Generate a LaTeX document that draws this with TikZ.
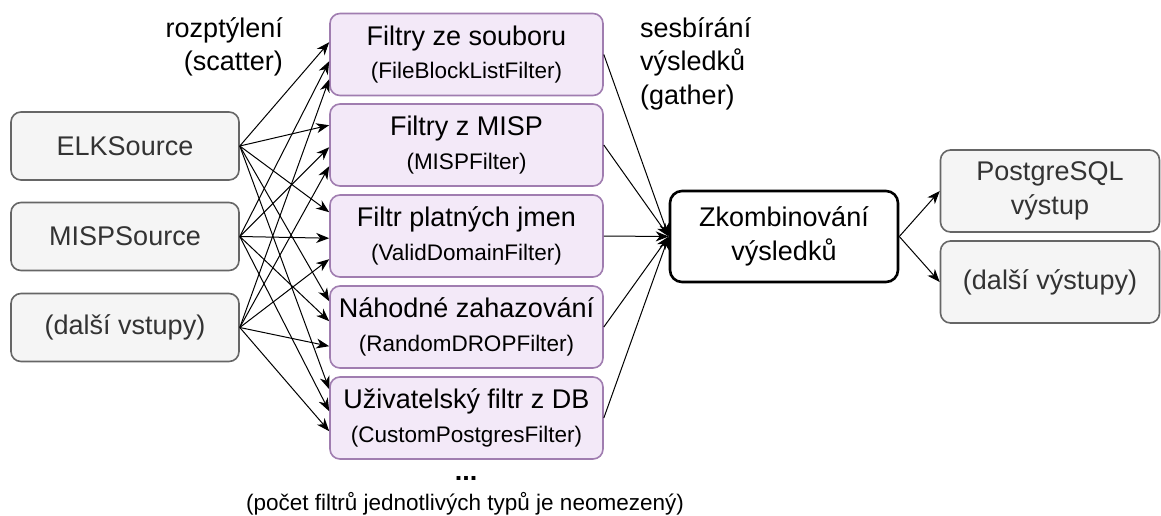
\documentclass[tikz,border=0pt]{standalone}
\usepackage{fontspec}
\setmainfont{Liberation Sans}
\usetikzlibrary{arrows.meta}
\newcommand\FontMain{\fontsize{27}{33.5}\selectfont}
\newcommand\FontSub{\fontsize{22.5}{27}\selectfont}
\definecolor{srcfill}{HTML}{F5F5F5}
\definecolor{srcline}{HTML}{666666}
\definecolor{srctext}{HTML}{333333}
\definecolor{filtfill}{HTML}{F3E9F8}
\definecolor{filtline}{HTML}{A07DB0}
\tikzset{
  src/.style={draw=srcline, fill=srcfill, rounded corners=10pt, line width=1.6pt,
    minimum width=228pt, minimum height=68pt, text=srctext, font=\FontMain, inner sep=0pt, align=center},
  filt/.style={draw=filtline, fill=filtfill, rounded corners=10pt, line width=1.6pt,
    minimum width=273pt, minimum height=82pt, align=center, font=\FontMain, inner sep=0pt},
  combbox/.style={draw=black, fill=white, rounded corners=12pt, line width=2.6pt,
    minimum width=228pt, minimum height=91pt, align=center, font=\FontMain, inner sep=0pt},
  outbox/.style={src, minimum width=219pt, minimum height=82pt},
  arr/.style={-{Stealth[length=13pt,width=10pt,inset=4pt]}, line width=1pt},
  lbl/.style={font=\FontMain, inner sep=0pt},
}
\begin{document}
\begin{tikzpicture}[x=1pt,y=-1pt]
\useasboundingbox (0,0) rectangle (1161,515);
% sources
\node[src] (elk) at (125,146) {ELKSource};
\node[src] (misp) at (125,236.5) {MISPSource};
\node[src] (dalsi) at (125,327.5) {(další vstupy)};
% filters
\node[filt] (f1) at (466.5,54.5) {Filtry ze souboru\\{\FontSub (FileBlockListFilter)}};
\node[filt] (f2) at (466.5,145) {Filtry z MISP\\{\FontSub (MISPFilter)}};
\node[filt] (f3) at (466.5,236) {Filtr platných jmen\\{\FontSub (ValidDomainFilter)}};
\node[filt] (f4) at (466.5,327) {Náhodné zahazování\\{\FontSub (RandomDROPFilter)}};
\node[filt] (f5) at (466.5,418) {Uživatelský filtr z DB\\{\FontSub (CustomPostgresFilter)}};
% combine and outputs
\node[combbox] (comb) at (784,236.5) {Zkombinování\\výsledků};
\node[outbox] (pg) at (1050,191) {PostgreSQL\\výstup};
\node[outbox] (dv) at (1050,282) {(další výstupy)};
% labels
\node[lbl, anchor=north east, align=right] (scat) at (283,17) {rozptýlení\\(scatter)};
\node[lbl, anchor=north west, align=left] (gath) at (640,17) {sesbírání\\výsledků\\(gather)};
\node[lbl, font=\bfseries\FontMain, anchor=base] (dots) at (466,480) {...};
\node[inner sep=0pt, font=\FontSub, anchor=base] (note) at (465,510) {(počet filtrů jednotlivých typů je neomezený)};
% scatter arrows
\foreach \s/\f/\o in {elk/f1/29.5, misp/f1/48.5, dalsi/f1/66.5,
                      elk/f2/22, misp/f2/44, dalsi/f2/63,
                      elk/f3/18, misp/f3/44, dalsi/f3/65,
                      elk/f4/16, misp/f4/36, dalsi/f4/61,
                      elk/f5/13, misp/f5/35, dalsi/f5/55}
  \draw[arr] (\s.east) -- ([yshift=-\o pt]\f.north west);
% gather arrows
\foreach \f in {f1,f2,f3,f4,f5}
  \draw[arr] (\f.east) -- (comb.west);
% outputs
\draw[arr] (comb.east) -- (pg.west);
\draw[arr] (comb.east) -- (dv.west);
\end{tikzpicture}
\end{document}
